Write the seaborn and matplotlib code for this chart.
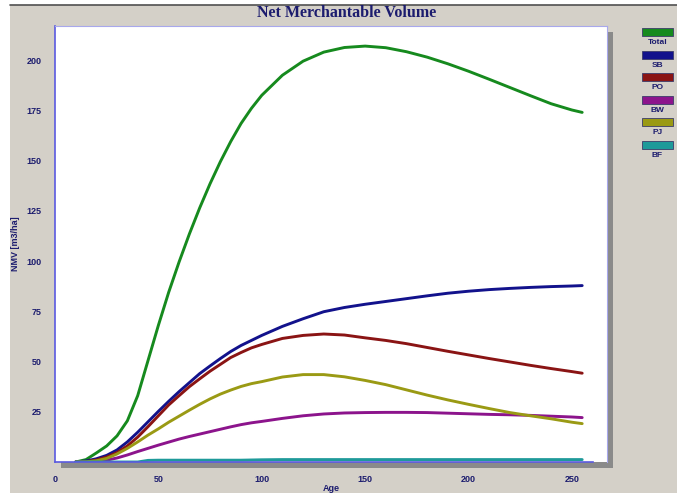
import numpy as np
import pandas as pd
import seaborn as sns
import matplotlib.pyplot as plt
from matplotlib.patches import Rectangle
from matplotlib.lines import Line2D
from matplotlib.ticker import MultipleLocator

# Valores (volume por idade)
ages = [10, 15, 20, 25, 30, 35, 40, 45, 50, 55, 60, 65, 70, 75, 80, 85, 90, 95, 100,
        110, 120, 130, 140, 150, 160, 170, 180, 190, 200, 210, 220, 230, 240, 250, 255]
total = [0, 1.2, 4.5, 8, 13, 20.5, 33, 50.5, 68, 84.5, 99.5, 113.5, 126.5, 138.5, 149.5, 159.5, 168.5, 176, 182.5,
         192.5, 199.5, 204, 206.3, 207, 206.2, 204.2, 201.5, 198.2, 194.5, 190.5, 186.4, 182.3, 178.3, 175.2, 174]
sb = [0, 0.5, 1.6, 3.3, 6, 10, 14.8, 20, 25.2, 30.2, 35, 39.5, 44, 47.8, 51.5, 55, 58, 60.5, 63,
      67.5, 71.3, 74.8, 76.9, 78.5, 79.9, 81.3, 82.7, 84, 85, 85.8, 86.4, 86.9, 87.3, 87.6, 87.8]
po = [0, 0.2, 1, 2.5, 4.7, 8, 12.4, 17.6, 23, 28.4, 33, 37.5, 41.4, 45.2, 48.6, 52, 54.5, 56.8, 58.5,
      61.5, 63, 63.7, 63.2, 61.8, 60.5, 58.9, 57, 55.1, 53.3, 51.5, 49.8, 48.1, 46.5, 45, 44.2]
bw = [0, 0.1, 0.3, 0.9, 2, 3.5, 5.2, 6.8, 8.4, 9.9, 11.4, 12.7, 13.9, 15.1, 16.3, 17.5, 18.6, 19.5, 20.2,
      21.7, 23, 23.9, 24.4, 24.6, 24.7, 24.7, 24.6, 24.3, 24, 23.7, 23.5, 23.2, 22.8, 22.4, 22.1]
pj = [0, 0.1, 0.6, 1.8, 4, 6.8, 10, 13.4, 16.5, 19.8, 22.8, 25.8, 28.7, 31.4, 33.8, 35.8, 37.6, 39, 40,
      42.3, 43.5, 43.5, 42.4, 40.6, 38.5, 35.9, 33.3, 30.9, 28.7, 26.6, 24.6, 23, 21.5, 19.8, 19.1]
bf = [0, 0, 0, 0, 0, 0, 0, 0.8, 0.9, 0.9, 0.9, 0.9, 0.9, 0.9, 0.9, 0.9, 0.9, 1.0, 1.1,
      1.2, 1.2, 1.2, 1.2, 1.2, 1.2, 1.2, 1.2, 1.2, 1.2, 1.2, 1.2, 1.2, 1.2, 1.2, 1.2]

species = ["Total", "SB", "PO", "BW", "PJ", "BF"]
colors = ["#168a1e", "#12128c", "#8a1414", "#8c148c", "#9a9a14", "#1e9a9a"]

df = pd.DataFrame({
    "Age": ages * len(species),
    "NMV": total + sb + po + bw + pj + bf,
    "Species": np.repeat(species, len(ages)),
})

sns.set_style("white")
plt.rcParams["font.family"] = ["Liberation Sans", "DejaVu Sans"]

navy = "#1c1c6e"
axis_blue = "#5a5ae0"
W, H = 677, 493

fig = plt.figure(figsize=(W / 100, H / 100), dpi=100)
fig.patch.set_facecolor("white")

# painel cinza + borda superior
fig.add_artist(Rectangle((10 / W, 0), 1, 1 - 5 / H, transform=fig.transFigure,
                         facecolor="#d4d0c8", edgecolor="none", zorder=-3))
fig.add_artist(Line2D([10 / W, 1], [1 - 5 / H, 1 - 5 / H], transform=fig.transFigure,
                      color="#505050", lw=1.2, zorder=-2))

ax_l, ax_b, ax_w, ax_h = 55 / W, 31 / H, 552 / W, 436 / H
fig.add_artist(Rectangle((ax_l + 6 / W, ax_b - 6 / H), ax_w, ax_h, transform=fig.transFigure,
                         facecolor="#8a8a8a", edgecolor="none", zorder=-1))
ax = fig.add_axes([ax_l, ax_b, ax_w, ax_h])
ax.set_facecolor("white")

sns.lineplot(data=df, x="Age", y="NMV", hue="Species", hue_order=species,
             palette=dict(zip(species, colors)), linewidth=2.1, legend=False, ax=ax)

ax.set_xlim(0, 267)
ax.set_ylim(0, 217)
ax.set_xticks(range(0, 251, 50))
ax.set_yticks(range(25, 201, 25))
ax.xaxis.set_minor_locator(MultipleLocator(10))
ax.yaxis.set_minor_locator(MultipleLocator(5))

for side in ["left", "bottom"]:
    ax.spines[side].set_color(axis_blue)
    ax.spines[side].set_linewidth(1.2)
for side in ["top", "right"]:
    ax.spines[side].set_color("#a8a8ec")
    ax.spines[side].set_linewidth(0.8)
ax.spines["bottom"].set_bounds(0, 260)

ax.tick_params(which="major", direction="inout", length=9, width=1, color=axis_blue,
               labelcolor=navy, labelsize=6.5, pad=5)
ax.tick_params(which="minor", direction="in", length=4, width=0.8, color=axis_blue)
for lab in ax.get_xticklabels() + ax.get_yticklabels():
    lab.set_fontweight("bold")

ax.set_xlabel("Age", fontsize=6.5, fontweight="bold", color=navy, labelpad=0)
ax.set_ylabel("NMV [m3/ha]", fontsize=6.5, fontweight="bold", color=navy, labelpad=5)

fig.text(347 / W, 1 - 13 / H, "Net Merchantable Volume", family="Liberation Serif",
         fontweight="bold", fontsize=11.5, color=navy, ha="center", va="center")

# legenda à direita
for i, (sp, c) in enumerate(zip(species, colors)):
    top = 28 + i * 22.6
    fig.add_artist(Rectangle((642 / W, 1 - (top + 8) / H), 31 / W, 8 / H,
                             transform=fig.transFigure, facecolor=c,
                             edgecolor="#3c3c6a", linewidth=0.6))
    fig.text(657.5 / W, 1 - (top + 14.5) / H, sp, fontsize=6, fontweight="bold",
             color=navy, ha="center", va="center")

fig.savefig("out.png", dpi=100, facecolor=fig.get_facecolor())
